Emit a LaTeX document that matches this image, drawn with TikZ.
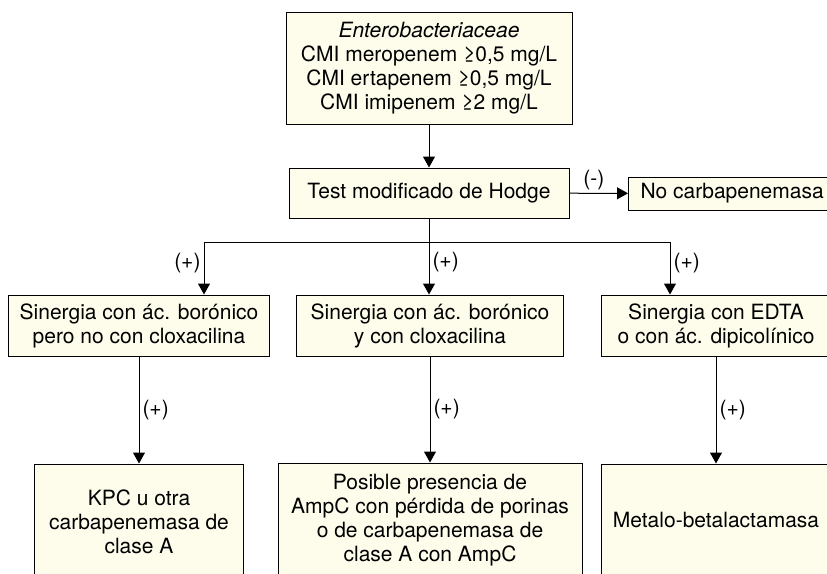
\documentclass[tikz,border=0pt]{standalone}
\usepackage{fontspec}
\setmainfont{TeX Gyre Heros}
\usetikzlibrary{arrows.meta}

\definecolor{fondocaja}{RGB}{254,253,236}

\tikzset{
  caja/.style={draw, fill=fondocaja, line width=1pt, align=center, inner sep=0pt,
    font=\fontsize{21}{24}\selectfont},
  flecha/.style={-{Triangle[length=11pt,width=12pt]}, line width=1pt},
  etiq/.style={font=\fontsize{21}{24}\selectfont, inner sep=3pt}
}

\begin{document}
\begin{tikzpicture}[x=1pt, y=-1pt]
    % Marco de la figura (recortada como el original)
    \useasboundingbox (0,0) rectangle (827,573);
    \clip (0,0) rectangle (827,573);

    % Cajas
    \node[caja, minimum width=286, minimum height=112] (ini) at (429,68)
      {\textit{Enterobacteriaceae}\\CMI meropenem ≥0,5 mg/L\\CMI ertapenem ≥0,5 mg/L\\CMI imipenem ≥2 mg/L};
    \node[caja, minimum width=280, minimum height=50] (hodge) at (429,193)
      {Test modificado de Hodge};
    \node[caja, anchor=west, minimum height=33, inner xsep=12] (nocarb) at (628,193.5)
      {No carbapenemasa};

    \node[caja, minimum width=261, minimum height=61] (boro) at (139,325.5)
      {Sinergia con ác. borónico\\pero no con cloxacilina};
    \node[caja, minimum width=267, minimum height=61] (cloxa) at (430,325.5)
      {Sinergia con ác. borónico\\y con cloxacilina};
    \node[caja, minimum width=230, minimum height=61] (edta) at (716,325.5)
      {Sinergia con EDTA\\o con ác. dipicolínico};

    \node[caja, minimum width=209, minimum height=116] (kpc) at (139,522)
      {KPC u otra\\carbapenemasa de\\clase A};
    \node[caja, minimum width=304, minimum height=114] (ampc) at (430,520)
      {Posible presencia de\\AmpC con pérdida de porinas\\o de carbapenemasa de\\clase A con AmpC};
    \node[caja, minimum width=230, minimum height=112] (metalo) at (716,520)
      {Metalo-betalactamasa};

    % Flechas
    \draw[flecha] (ini) -- (hodge);
    \draw[flecha] (hodge) -- node[etiq, above, xshift=-5]{(-)} (nocarb);

    \coordinate (rama) at (429,242);
    \draw[line width=1pt] (hodge) -- (rama);
    \draw[flecha] (rama) -| node[etiq, pos=0.7, left]{(+)} ([xshift=65]boro.north);
    \draw[flecha] (rama) -- node[etiq, pos=0.38, right]{(+)} (rama |- cloxa.north);
    \draw[flecha] (rama) -| node[etiq, pos=0.7, right]{(+)} ([xshift=-46]edta.north);

    \draw[flecha] (boro) -- node[etiq, right]{(+)} (kpc);
    \draw[flecha] (cloxa) -- node[etiq, right]{(+)} (ampc);
    \draw[flecha] (edta) -- node[etiq, right]{(+)} (metalo);

\end{tikzpicture}
\end{document}
